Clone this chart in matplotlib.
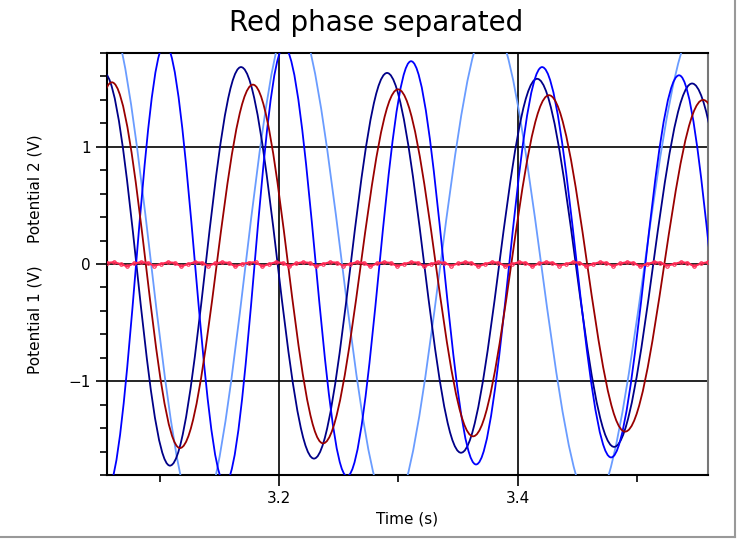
import matplotlib
matplotlib.use('Agg')
import matplotlib.pyplot as plt
from matplotlib.path import Path
from matplotlib.patches import PathPatch
from matplotlib.lines import Line2D
from matplotlib.ticker import MultipleLocator
import numpy as np

# turning points: time (s), potential (V)
navy_t = [3.0534, 3.1087, 3.1682, 3.2293, 3.2905, 3.3524, 3.4161, 3.4806, 3.5459, 3.6112]
navy_v = [1.63, -1.72, 1.68, -1.66, 1.63, -1.61, 1.58, -1.56, 1.54, -1.52]

blue_t = [3.0074, 3.0559, 3.1045, 3.1548, 3.2042, 3.2570, 3.3106, 3.3650, 3.4203, 3.4781, 3.5350, 3.5878]
blue_v = [1.90, -1.92, 1.88, -1.87, 1.85, -1.81, 1.73, -1.71, 1.68, -1.65, 1.61, -1.60]

light_t = [2.9764, 3.0534, 3.1322, 3.2117, 3.2934, 3.3767, 3.4621, 3.5501, 3.6364]
light_v = [-2.20, 2.20, -2.17, 2.14, -2.10, 2.07, -2.05, 2.03, -2.00]

red_t = [3.0032, 3.0601, 3.1171, 3.1782, 3.2369, 3.2997, 3.3625, 3.4261, 3.4898, 3.5551, 3.6204]
red_v = [-1.56, 1.55, -1.57, 1.53, -1.53, 1.49, -1.47, 1.44, -1.43, 1.40, -1.38]

# potential 1: small ripple around zero
p1_v = [0.01, 0.015, 0.0, -0.02, 0.005, 0.015, 0.01, -0.015, 0.0, 0.015,
        0.01, -0.02, 0.0, 0.015, 0.012, -0.015, 0.005, 0.015, 0.01, -0.02,
        0.0, 0.012, 0.015, -0.02, 0.0, 0.015, 0.01, -0.018, 0.005, 0.015,
        0.01, -0.02, 0.0, 0.015, 0.012, -0.015, 0.0, 0.015, 0.01, -0.02,
        0.005, 0.015, 0.01, -0.018, 0.0, 0.015, 0.012, -0.02, 0.0, 0.015,
        0.01, -0.015, 0.005, 0.015, 0.01, -0.02, 0.0, 0.015, 0.012, -0.018,
        0.0, 0.015, 0.01, -0.02, 0.005, 0.015, 0.01, -0.015, 0.0, 0.015,
        0.012, -0.02, 0.0, 0.015, 0.01, -0.018, 0.005, 0.015, 0.01, -0.02,
        0.0, 0.015, 0.012, -0.015, 0.0, 0.015, 0.01, -0.02, 0.005, 0.015]
p1_t = np.linspace(3.056, 3.559, len(p1_v))


def smooth_path(t, v):
    # cubic segment between neighbouring turning points, flat at both ends
    k = 0.3634
    verts = [(t[0], v[0])]
    codes = [Path.MOVETO]
    for i in range(1, len(t)):
        dt = t[i] - t[i - 1]
        verts += [(t[i - 1] + k * dt, v[i - 1]), (t[i] - k * dt, v[i]), (t[i], v[i])]
        codes += [Path.CURVE4] * 3
    return Path(verts, codes)


fig = plt.figure(figsize=(7.38, 5.41), dpi=100)
ax = fig.add_axes([0.145, 0.122, 0.814, 0.780])

for t, v, c in [(light_t, light_v, '#6a9cff'),
                (navy_t, navy_v, '#000088'),
                (blue_t, blue_v, '#0000ff'),
                (red_t, red_v, '#990000')]:
    ax.add_patch(PathPatch(smooth_path(t, v), fill=False, edgecolor=c, lw=1.3, zorder=3))

ax.plot(p1_t, p1_v, color='#ff2a55', lw=1.5, marker='o', ms=2.5, mfc='none', mew=0.8, zorder=4)

ax.set_xlim(3.056, 3.559)
ax.set_ylim(-1.8, 1.8)
ax.xaxis.set_major_locator(MultipleLocator(0.2))
ax.xaxis.set_minor_locator(MultipleLocator(0.1))
ax.yaxis.set_major_locator(MultipleLocator(1))
ax.yaxis.set_minor_locator(MultipleLocator(0.2))
ax.grid(True, which='major', color='black', lw=1.2)
ax.set_axisbelow(True)
ax.tick_params(which='major', length=8, width=1.2, labelsize=11)
ax.tick_params(which='minor', length=5, width=1.2)
for s in ['left', 'bottom', 'top']:
    ax.spines[s].set_linewidth(1.5)
ax.spines['right'].set_color('#777777')
ax.spines['right'].set_linewidth(1.5)

ax.set_xlabel('Time (s)', fontsize=11)
fig.text(0.047, 0.409, 'Potential 1 (V)', rotation=90, ha='center', va='center', fontsize=11)
fig.text(0.047, 0.652, 'Potential 2 (V)', rotation=90, ha='center', va='center', fontsize=11)
fig.text(0.509, 0.958, 'Red phase separated', ha='center', va='center', fontsize=20)

# thin grey frame on the right and bottom edge of the window
fig.add_artist(Line2D([0.996, 0.996], [0.007, 1.0], transform=fig.transFigure, color='#999999', lw=1.5))
fig.add_artist(Line2D([0.0, 0.996], [0.007, 0.007], transform=fig.transFigure, color='#999999', lw=1.5))

fig.savefig('out.png', dpi=100)
